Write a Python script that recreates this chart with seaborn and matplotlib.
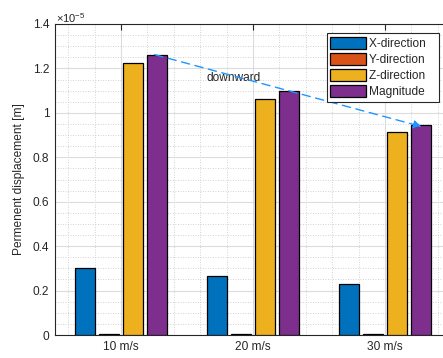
import numpy as np
import pandas as pd
import seaborn as sns
from matplotlib import pyplot as plt
from matplotlib.ticker import MultipleLocator, FuncFormatter, NullFormatter

# values (metres)
speeds = ['10 m/s', '20 m/s', '30 m/s']
components = ['X-direction', 'Y-direction', 'Z-direction', 'Magnitude']
x_dir = [0.303e-5, 0.266e-5, 0.231e-5]
y_dir = [0.004e-5, 0.004e-5, 0.004e-5]
z_dir = [1.224e-5, 1.064e-5, 0.914e-5]
magnitude = [1.260e-5, 1.098e-5, 0.944e-5]
colors = ['#0072BD', '#D95319', '#EDB120', '#7E2F8E']

df = pd.DataFrame({
    'speed': speeds * 4,
    'component': np.repeat(components, 3),
    'disp': x_dir + y_dir + z_dir + magnitude,
})

sns.set_style('white')
plt.rcParams['font.family'] = ['Liberation Sans', 'DejaVu Sans']
plt.rcParams['mathtext.fontset'] = 'custom'
plt.rcParams['mathtext.rm'] = 'Liberation Sans'
fs = 8.6

fig = plt.figure(figsize=(4.43, 3.58), dpi=100)
ax = fig.add_axes([55 / 443, 23 / 358, 396 / 443, 311 / 358])

sns.barplot(data=df, x='speed', y='disp', hue='component', order=speeds,
            hue_order=components, palette=colors, width=0.727, gap=0.2,
            edgecolor='black', linewidth=0.9, saturation=1, errorbar=None,
            ax=ax, zorder=3)

ax.set_xlim(-0.5, 2.5)
ax.set_ylim(0, 1.4e-5)
ax.yaxis.set_major_locator(MultipleLocator(0.2e-5))
ax.yaxis.set_minor_locator(MultipleLocator(0.05e-5))
ax.yaxis.set_major_formatter(FuncFormatter(lambda v, p: '%g' % round(v / 1e-5, 3)))
ax.xaxis.set_minor_locator(MultipleLocator(0.2))
ax.xaxis.set_minor_formatter(NullFormatter())

ax.set_axisbelow(True)
ax.grid(which='major', color='#dcdcdc', linewidth=0.8, linestyle='-')
ax.grid(which='minor', color='#c4c4c4', linewidth=0.6, linestyle=(0, (1, 2)))
for s in ax.spines.values():
    s.set_color('#262626')
    s.set_linewidth(0.8)
    s.set_visible(True)
ax.tick_params(which='major', direction='in', length=4, width=0.8, color='#262626',
               top=True, right=True, labelsize=fs, labelcolor='#262626', pad=4)
ax.tick_params(which='minor', length=0)

ax.set_xlabel('')
ax.set_ylabel('Permenent displacement [m]', fontsize=fs, color='#262626', labelpad=6)
ax.text(0.003, 0.998, r'$\times 10^{-5}$', transform=ax.transAxes, fontsize=fs - 0.6,
        color='#262626', ha='left', va='bottom')

# trend arrow
ax.annotate('', xy=(2.278, 0.938e-5), xytext=(0.255, 1.262e-5),
            arrowprops=dict(arrowstyle='-|>', color='#1E96FF', lw=1.0,
                            linestyle=(0, (6, 4)), mutation_scale=12,
                            shrinkA=0, shrinkB=0),
            zorder=5)
ax.text(0.856, 1.155e-5, 'downward', fontsize=fs, color='#262626', ha='center', va='center')

handles, _ = ax.get_legend_handles_labels()
leg = ax.legend(handles, [c + '   ' for c in components],
                loc='upper right', bbox_to_anchor=(439 / 443, 1 - 33 / 358),
                bbox_transform=fig.transFigure, borderaxespad=0, fontsize=fs,
                fancybox=False, framealpha=1, edgecolor='#262626',
                handlelength=3.0, handleheight=1.2, handletextpad=0.25,
                labelspacing=0.25, borderpad=0.3, title=None)
leg.get_frame().set_linewidth(0.8)

plt.savefig('out.png', dpi=100)
